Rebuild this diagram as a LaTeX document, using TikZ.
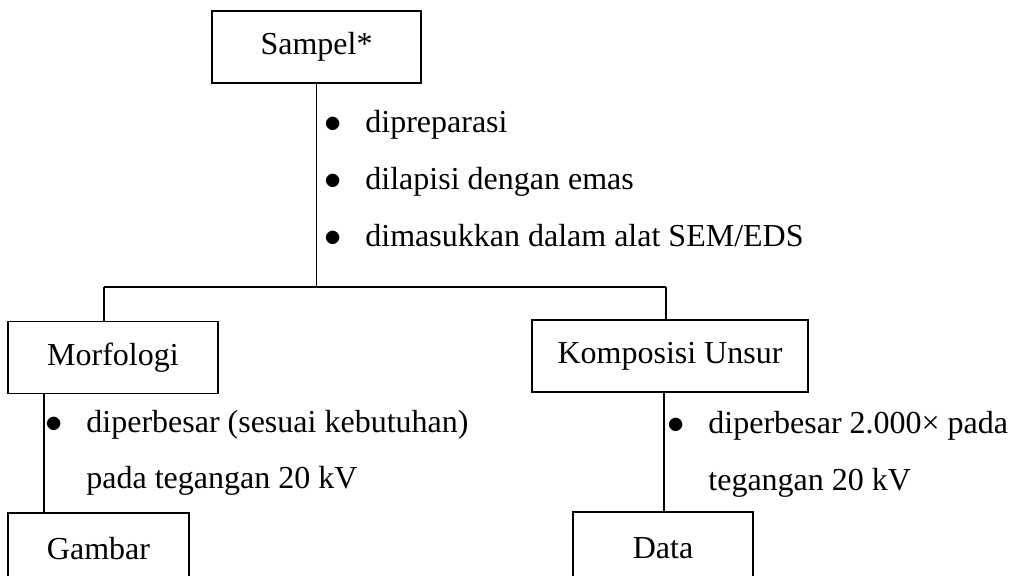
\documentclass[tikz,border=0pt]{standalone}
\usepackage{fontspec}
\setmainfont{Liberation Serif}
\usetikzlibrary{positioning}
\newcommand\butir[1]{\makebox[20.5pt][l]{$\bullet$}#1}

\begin{document}
\begin{tikzpicture}[x=0.5pt,y=-0.5pt,
  kotak/.style={draw,line width=0.8pt,shape=rectangle,minimum height=36pt,inner sep=0pt,font=\fontsize{16}{19}\selectfont},
  teks/.style={inner sep=0pt,anchor=base west,font=\fontsize{16}{19}\selectfont},
  garis/.style={line width=0.7pt}]
%
\useasboundingbox (0,0) rectangle (1020,576);
%
\node[kotak,minimum width=104.5pt] (sampel) at (316.5,47) {Sampel*};
\node[kotak,minimum width=105pt] (morfologi) at (113,357.5) {Morfologi};
\node[kotak,minimum width=138pt] (komposisi) at (670,356) {Komposisi Unsur};
\node[kotak,minimum width=90.5pt] (gambar) at (98.5,549) {Gambar};
\node[kotak,minimum width=90pt] (data) at (663,548) {Data};
%
\node[teks] (t1) at (324,133) {\butir{dipreparasi}};
\node[teks] (t2) at (324,190) {\butir{dilapisi dengan emas}};
\node[teks] (t3) at (324,247) {\butir{dimasukkan dalam alat SEM/EDS}};
\node[teks] (m1) at (45,432) {\butir{diperbesar (sesuai kebutuhan)}};
\node[teks] (m2) at (86,488) {pada tegangan 20 kV};
\node[teks] (k1) at (667,433) {\butir{diperbesar 2.000× pada}};
\node[teks] (k2) at (708,490) {tegangan 20 kV};
%
\coordinate (cabang) at (316.5,287);
\coordinate (kiri) at (104,287);
\coordinate (kanan) at (666,287);
\coordinate (xkiri) at (44,0);
\coordinate (xkanan) at (664,0);
%
\draw[garis] (sampel.south) -- (cabang);
\draw[garis] (kiri) -- (kanan);
\draw[garis] (kiri) -- (kiri |- morfologi.north);
\draw[garis] (kanan) -- (kanan |- komposisi.north);
\draw[garis] (xkiri |- morfologi.south) -- (xkiri |- gambar.north);
\draw[garis] (xkanan |- komposisi.south) -- (xkanan |- data.north);
%
\end{tikzpicture}
\end{document}
